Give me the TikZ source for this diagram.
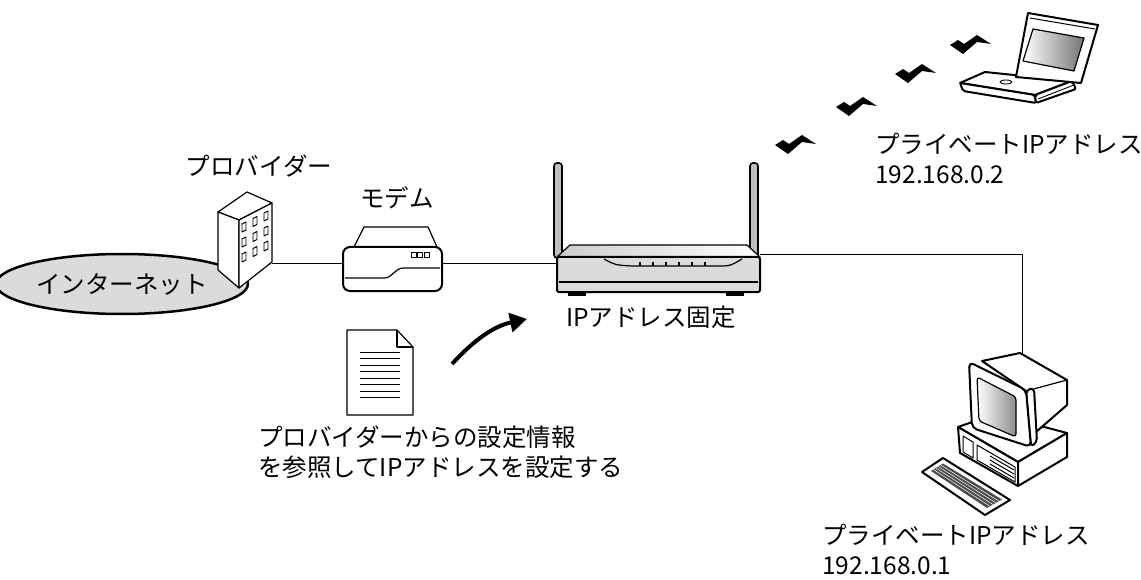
\documentclass[tikz,border=0pt]{standalone}
\usepackage{fontspec}
\setmainfont{Noto Sans CJK JP}
\usetikzlibrary{shapes.geometric,arrows.meta,calc}
\begin{document}
\begin{tikzpicture}[x=1pt,y=-1pt,line join=round,
  outline/.style={draw=black,line width=1.2pt},
  heavy/.style={draw=black,line width=2pt},
  wire/.style={draw=black,line width=0.9pt},
  txt/.style={font=\fontsize{24.5}{30}\selectfont,inner sep=0pt},
  bolt/.style={fill=black}]
\useasboundingbox (0,0) rectangle (1141,580);

% ports where the cables meet the devices
\coordinate (bldg-east) at (272,263);
\coordinate (modem-west) at (343,263);
\coordinate (modem-east) at (442,263);
\coordinate (router-west) at (557,263);
\coordinate (router-east) at (760,254);
\coordinate (pc-top) at (1022,355);

% cables
\draw[wire] (bldg-east) -- (modem-west);
\draw[wire] (modem-east) -- (router-west);
\draw[wire] (router-east) -| (pc-top);

% internet
\node[ellipse,draw,line width=2.5pt,fill=black!14,minimum width=226pt,minimum height=60pt,font=\fontsize{24.5}{30}\selectfont] (inet) at (122,284) {インターネット};

% provider building
\draw[outline,fill=white] (218,212) -- (247,192) -- (272,203) -- (239,220) -- cycle;
\draw[outline,fill=white] (218,212) -- (239,220) -- (239,288) -- (218,270) -- cycle;
\draw[outline,fill=white] (239,220) -- (272,203) -- (272,262) -- (239,288) -- cycle;
\foreach \i in {0,1,2}
  \foreach \j in {0,1,2}
    \draw[line width=0.9pt] ({242+11*\i},{224-5.5*\i+15*\j}) -- ++(4,-2) -- ++(0,8) -- ++(-4,2) -- cycle;
\node[txt] (provider) at (259,166) {プロバイダー};

% modem
\draw[outline,fill=white] (354,247) -- (364,227) -- (428,227) -- (437,247);
\draw[heavy,fill=white,rounded corners=7] (343,247) rectangle (442,291);
\draw[outline] (345,278) -- (384,278) .. controls (393,278) and (394,268) .. (404,268) -- (440,268);
\foreach \k in {0,1,2}
  \draw[line width=0.9pt] ({411+6.5*\k},252) rectangle ++(5,5);
\node[txt] (modem) at (397,198) {モデム};

% router
\draw[line width=1.6pt,fill=black!25,rounded corners=3] (554,163) rectangle (562,258);
\draw[line width=1.6pt,fill=black!25,rounded corners=3] (750,163) rectangle (758,258);
\fill (568,290) rectangle (586,296);
\fill (726,290) rectangle (744,296);
\draw[outline,left color=black!20,right color=white] (570,245) -- (747,245) -- (760,257) -- (557,257) -- cycle;
\draw[heavy,fill=black!14,rounded corners=2] (557,257) rectangle (760,292);
\draw[outline] (559,282) -- (758,282);
\draw[outline] (604,259) .. controls (615,265) .. (632,266) -- (717,266) .. controls (730,266) .. (742,259);
\foreach \x in {640,653,666,679,692,705}
  \draw[line width=1.2pt] (\x,262) -- (\x,266);
\node[txt] (fixed) at (651,317) {IPアドレス固定};

% settings sheet and arrow
\draw[outline,fill=white] (347,330) -- (397,330) -- (413,347) -- (413,415) -- (347,415) -- cycle;
\draw[outline] (397,330) -- (397,347) -- (413,347);
\foreach \y in {352,358.5,365,371.5,378,384.5,391,397.5}
  \draw[line width=1pt] (360,\y) -- (400,\y);
\coordinate (arrow-from) at (452,364);
\coordinate (arrow-to) at (527,319);
\draw[line width=4pt,-{Triangle[length=17pt,width=19pt]}] (arrow-from) .. controls (474,340) and (494,326) .. (arrow-to);
\node[txt,anchor=north west,align=left] (note) at (258,426) {プロバイダーからの設定情報\\を参照してIPアドレスを設定する};

% radio waves
\foreach \x/\y in {775/135,836/97,895/64,950/35}
  \fill[shift={(\x,\y)}] (0,10) -- (8,5) -- (14,9) -- (27,0) -- (41,9) -- (27,7) -- (13,19) -- cycle;

% laptop
\draw[heavy,fill=white] (960,83) -- (985,72) -- (1072,81) -- (1035,95) -- cycle;
\draw[heavy,fill=white,rounded corners=2] (960,83) -- (1035,95) -- (1036,103) -- (963,91) -- cycle;
\draw[heavy,fill=white,rounded corners=2] (1035,95) -- (1072,81) -- (1076,89) -- (1036,103) -- cycle;
\draw[line width=0.9pt] (1038,99) -- (1074,85);
\draw[line width=0.9pt] (1006,82) ellipse (6 and 2);
\draw[heavy,fill=white] (1016,77) -- (1028,13) -- (1098,25) -- (1081,83) -- cycle;
\draw[line width=1pt] (1030,18) -- (1095,29);
\draw[outline,left color=white,right color=black!55] (1033,29) -- (1084,38) -- (1074,71) -- (1023,61) -- cycle;
\node[txt,anchor=north west,align=left] (laptop-ip) at (875,133) {プライベートIPアドレス\\192.168.0.2};

% desktop: case
\draw[heavy,fill=white] (958,427) -- (995,414) -- (1067,433) -- (1018,462) -- cycle;
\draw[heavy,fill=white] (958,427) -- (1018,462) -- (1018,486) -- (960,453) -- cycle;
\draw[heavy,fill=white] (1018,462) -- (1067,433) -- (1067,457) -- (1018,486) -- cycle;
\draw[line width=1pt] (963,436) -- (973,442) -- (973,458) -- (963,452) -- cycle;
\draw[line width=1pt] (977,445) -- (1015,467) -- (1015,482) -- (977,460) -- cycle;
\foreach \d in {0,4,8}
  \draw[line width=1pt] (990,{456+\d}) -- (1014,{470+\d});
% keyboard
\draw[heavy,fill=white] (922,472) -- (943,458) -- (1010,500) -- (985,515) -- cycle;
\fill[black!70] (931,471) -- (943,463.5) -- (1002,499.5) -- (987,508) -- cycle;
\foreach \t in {0.2,0.4,0.6,0.8}
  \draw[white,line width=0.5pt] ($(931,471)!\t!(943,463.5)$) -- ($(987,508)!\t!(1002,499.5)$);
% monitor
\draw[heavy,fill=white] (982,361) -- (1020,353) -- (1067,380) -- (1067,405) -- (1036,432) -- (1026,391) -- cycle;
\draw[outline] (1026,391) -- (1067,380);
\draw[heavy,fill=white,rounded corners=4] (1026,390) -- (1034,388) -- (1037,442) -- (1031,447) -- cycle;
\draw[heavy,fill=white,rounded corners=5] (969,362) -- (1026,390) -- (1031,447) -- (972,428) -- cycle;
\draw[outline,left color=white,right color=black!45,rounded corners=3] (977,377) -- (1016,397) -- (1016,437) -- (979,421) -- cycle;
\node[txt,anchor=north west,align=left] (desktop-ip) at (822,524) {プライベートIPアドレス\\192.168.0.1};
\end{tikzpicture}
\end{document}
